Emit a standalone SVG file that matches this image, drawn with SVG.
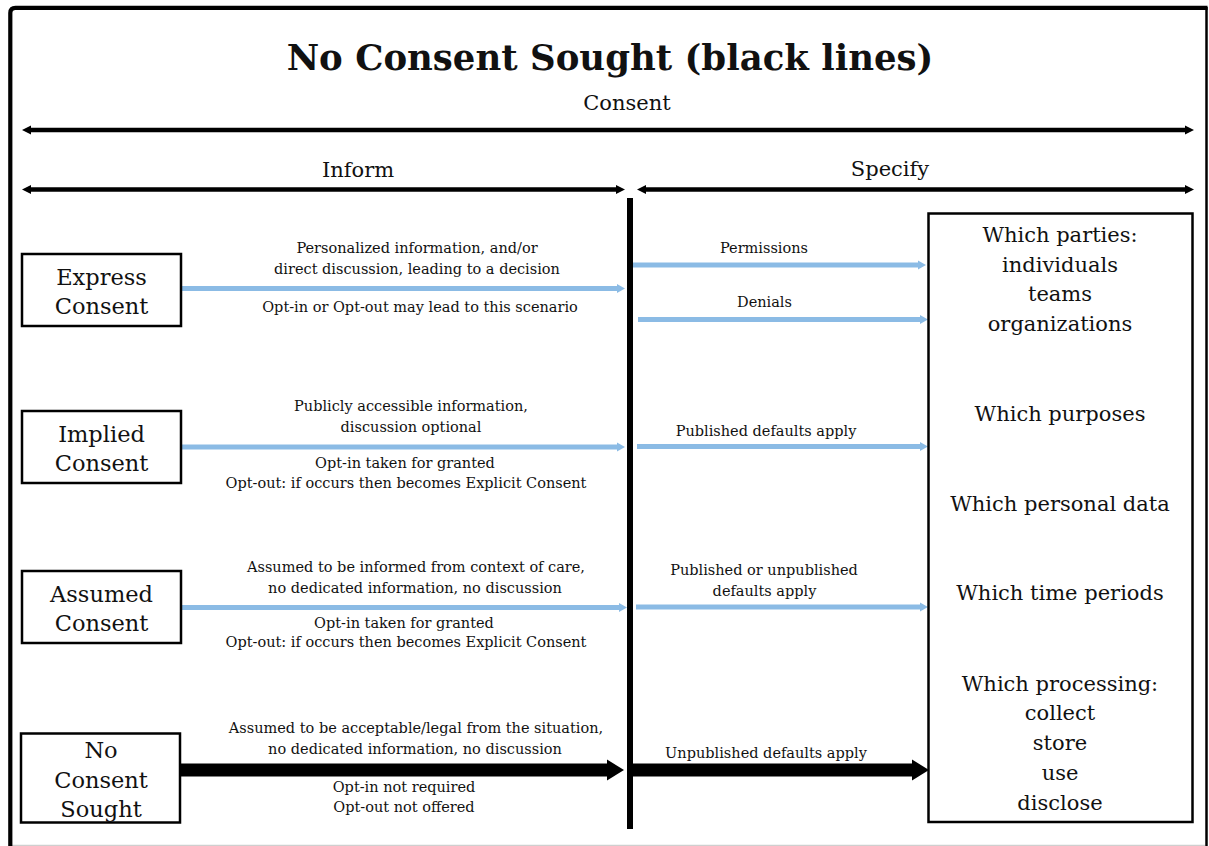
<svg xmlns="http://www.w3.org/2000/svg" width="1209" height="846" viewBox="0 0 1209 846">
  <style>
    text { font-family: "DejaVu Serif", "Liberation Serif", serif; fill: #111; text-anchor: middle; }
    .title { font-size: 35.5px; font-weight: bold; }
    .hdr { font-size: 21px; }
    .node { font-size: 22.5px; }
    .spec { font-size: 21px; }
    .lbl { font-size: 14.5px; }
    .box { fill: #fff; stroke: #000; stroke-width: 2.5; }
    .axis { stroke: #000; stroke-width: 4.5; fill: none; }
    .flow { stroke: #8bbbe5; stroke-width: 5; fill: none; }
    .none { stroke: #000; stroke-width: 13; fill: none; }
  </style>
  <defs>
    <marker id="axisHead" markerUnits="userSpaceOnUse" markerWidth="9" markerHeight="10" refX="0" refY="5" orient="auto-start-reverse" overflow="visible">
      <path d="M0,0.5 L9,5 L0,9.5 z" fill="#000"/>
    </marker>
    <marker id="flowHead" markerUnits="userSpaceOnUse" markerWidth="8" markerHeight="9" refX="0" refY="4.5" orient="auto" overflow="visible">
      <path d="M0,0 L8,4.5 L0,9 z" fill="#8bbbe5"/>
    </marker>
    <marker id="noneHead" markerUnits="userSpaceOnUse" markerWidth="17" markerHeight="21" refX="0" refY="10.5" orient="auto" overflow="visible">
      <path d="M0,0 L17,10.5 L0,21 z" fill="#000"/>
    </marker>
  </defs>

  <!-- page frame -->
  <g id="frame">
    <rect x="0" y="0" width="1209" height="846" fill="#fff"/>
    <line x1="12" y1="845.5" x2="1205" y2="845.5" stroke="#cfcfcf" stroke-width="1.5"/>
    <line x1="1206.5" y1="7" x2="1206.5" y2="846" stroke="#000" stroke-width="2.5"/>
    <path d="M10.3,846 V13 Q10.3,7.8 15.5,7.8 H1207.5" fill="none" stroke="#000" stroke-width="4.2"/>
  </g>

  <!-- headings -->
  <g id="headings">
    <text class="title" x="610" y="70">No Consent Sought (black lines)</text>
    <text class="hdr" x="627" y="110">Consent</text>
    <text class="hdr" x="358" y="177">Inform</text>
    <text class="hdr" x="890" y="176">Specify</text>
  </g>

  <!-- connectors -->
  <g id="connectors">
    <!-- scale axes -->
    <line class="axis" x1="31" y1="130" x2="1185" y2="130" marker-start="url(#axisHead)" marker-end="url(#axisHead)"/>
    <line class="axis" x1="31" y1="189.5" x2="616" y2="189.5" marker-start="url(#axisHead)" marker-end="url(#axisHead)"/>
    <line class="axis" x1="646" y1="189.5" x2="1185" y2="189.5" marker-start="url(#axisHead)" marker-end="url(#axisHead)"/>
    <!-- divider between Inform and Specify -->
    <line x1="630" y1="198" x2="630" y2="829" stroke="#000" stroke-width="6"/>

    <!-- Inform side -->
    <line class="flow" x1="181" y1="288.5" x2="617" y2="288.5" marker-end="url(#flowHead)"/>
    <line class="flow" x1="181" y1="447" x2="617" y2="447" marker-end="url(#flowHead)"/>
    <line class="flow" x1="181" y1="607.5" x2="619" y2="607.5" marker-end="url(#flowHead)"/>
    <line class="none" x1="180" y1="770" x2="607" y2="770" marker-end="url(#noneHead)"/>

    <!-- Specify side -->
    <line class="flow" x1="633" y1="265" x2="918" y2="265" marker-end="url(#flowHead)"/>
    <line class="flow" x1="638" y1="319.5" x2="920" y2="319.5" marker-end="url(#flowHead)"/>
    <line class="flow" x1="637" y1="446.5" x2="920" y2="446.5" marker-end="url(#flowHead)"/>
    <line class="flow" x1="636" y1="607" x2="920" y2="607" marker-end="url(#flowHead)"/>
    <line class="none" x1="633" y1="770" x2="912" y2="770" marker-end="url(#noneHead)"/>
  </g>

  <!-- connector labels -->
  <g id="labels">
    <text class="lbl" x="417" y="253">Personalized information, and/or</text>
    <text class="lbl" x="417" y="274">direct discussion, leading to a decision</text>
    <text class="lbl" x="420" y="312">Opt-in or Opt-out may lead to this scenario</text>

    <text class="lbl" x="411" y="411">Publicly accessible information,</text>
    <text class="lbl" x="411" y="432">discussion optional</text>
    <text class="lbl" x="405" y="468">Opt-in taken for granted</text>
    <text class="lbl" x="406" y="488">Opt-out: if occurs then becomes Explicit Consent</text>

    <text class="lbl" x="416" y="572">Assumed to be informed from context of care,</text>
    <text class="lbl" x="415" y="593">no dedicated information, no discussion</text>
    <text class="lbl" x="404" y="628">Opt-in taken for granted</text>
    <text class="lbl" x="406" y="647">Opt-out: if occurs then becomes Explicit Consent</text>

    <text class="lbl" x="416" y="733">Assumed to be acceptable/legal from the situation,</text>
    <text class="lbl" x="415" y="754">no dedicated information, no discussion</text>
    <text class="lbl" x="404" y="792">Opt-in not required</text>
    <text class="lbl" x="404" y="812">Opt-out not offered</text>

    <text class="lbl" x="764" y="253">Permissions</text>
    <text class="lbl" x="764.5" y="307">Denials</text>
    <text class="lbl" x="766" y="436">Published defaults apply</text>
    <text class="lbl" x="764" y="575">Published or unpublished</text>
    <text class="lbl" x="764.5" y="596">defaults apply</text>
    <text class="lbl" x="766" y="758">Unpublished defaults apply</text>
  </g>

  <!-- consent types -->
  <g id="express-consent">
    <rect class="box" x="22" y="254" width="159" height="72"/>
    <text class="node" x="101.5" y="285">Express</text>
    <text class="node" x="101.5" y="314">Consent</text>
  </g>
  <g id="implied-consent">
    <rect class="box" x="22" y="411" width="159" height="72"/>
    <text class="node" x="101.5" y="442">Implied</text>
    <text class="node" x="101.5" y="471">Consent</text>
  </g>
  <g id="assumed-consent">
    <rect class="box" x="22" y="571" width="159" height="72"/>
    <text class="node" x="101.5" y="602">Assumed</text>
    <text class="node" x="101.5" y="631">Consent</text>
  </g>
  <g id="no-consent-sought">
    <rect class="box" x="21" y="733.5" width="159" height="89"/>
    <text class="node" x="101" y="758">No</text>
    <text class="node" x="101" y="788">Consent</text>
    <text class="node" x="101" y="817">Sought</text>
  </g>

  <!-- what is specified -->
  <g id="specification">
    <rect class="box" x="928.5" y="213.5" width="264" height="608.5"/>
    <text class="spec" x="1060" y="242">Which parties:</text>
    <text class="spec" x="1060" y="272">individuals</text>
    <text class="spec" x="1060" y="301">teams</text>
    <text class="spec" x="1060" y="331">organizations</text>
    <text class="spec" x="1060" y="421">Which purposes</text>
    <text class="spec" x="1060" y="511">Which personal data</text>
    <text class="spec" x="1060" y="600">Which time periods</text>
    <text class="spec" x="1060" y="691">Which processing:</text>
    <text class="spec" x="1060" y="720">collect</text>
    <text class="spec" x="1060" y="750">store</text>
    <text class="spec" x="1060" y="780">use</text>
    <text class="spec" x="1060" y="810">disclose</text>
  </g>
</svg>
